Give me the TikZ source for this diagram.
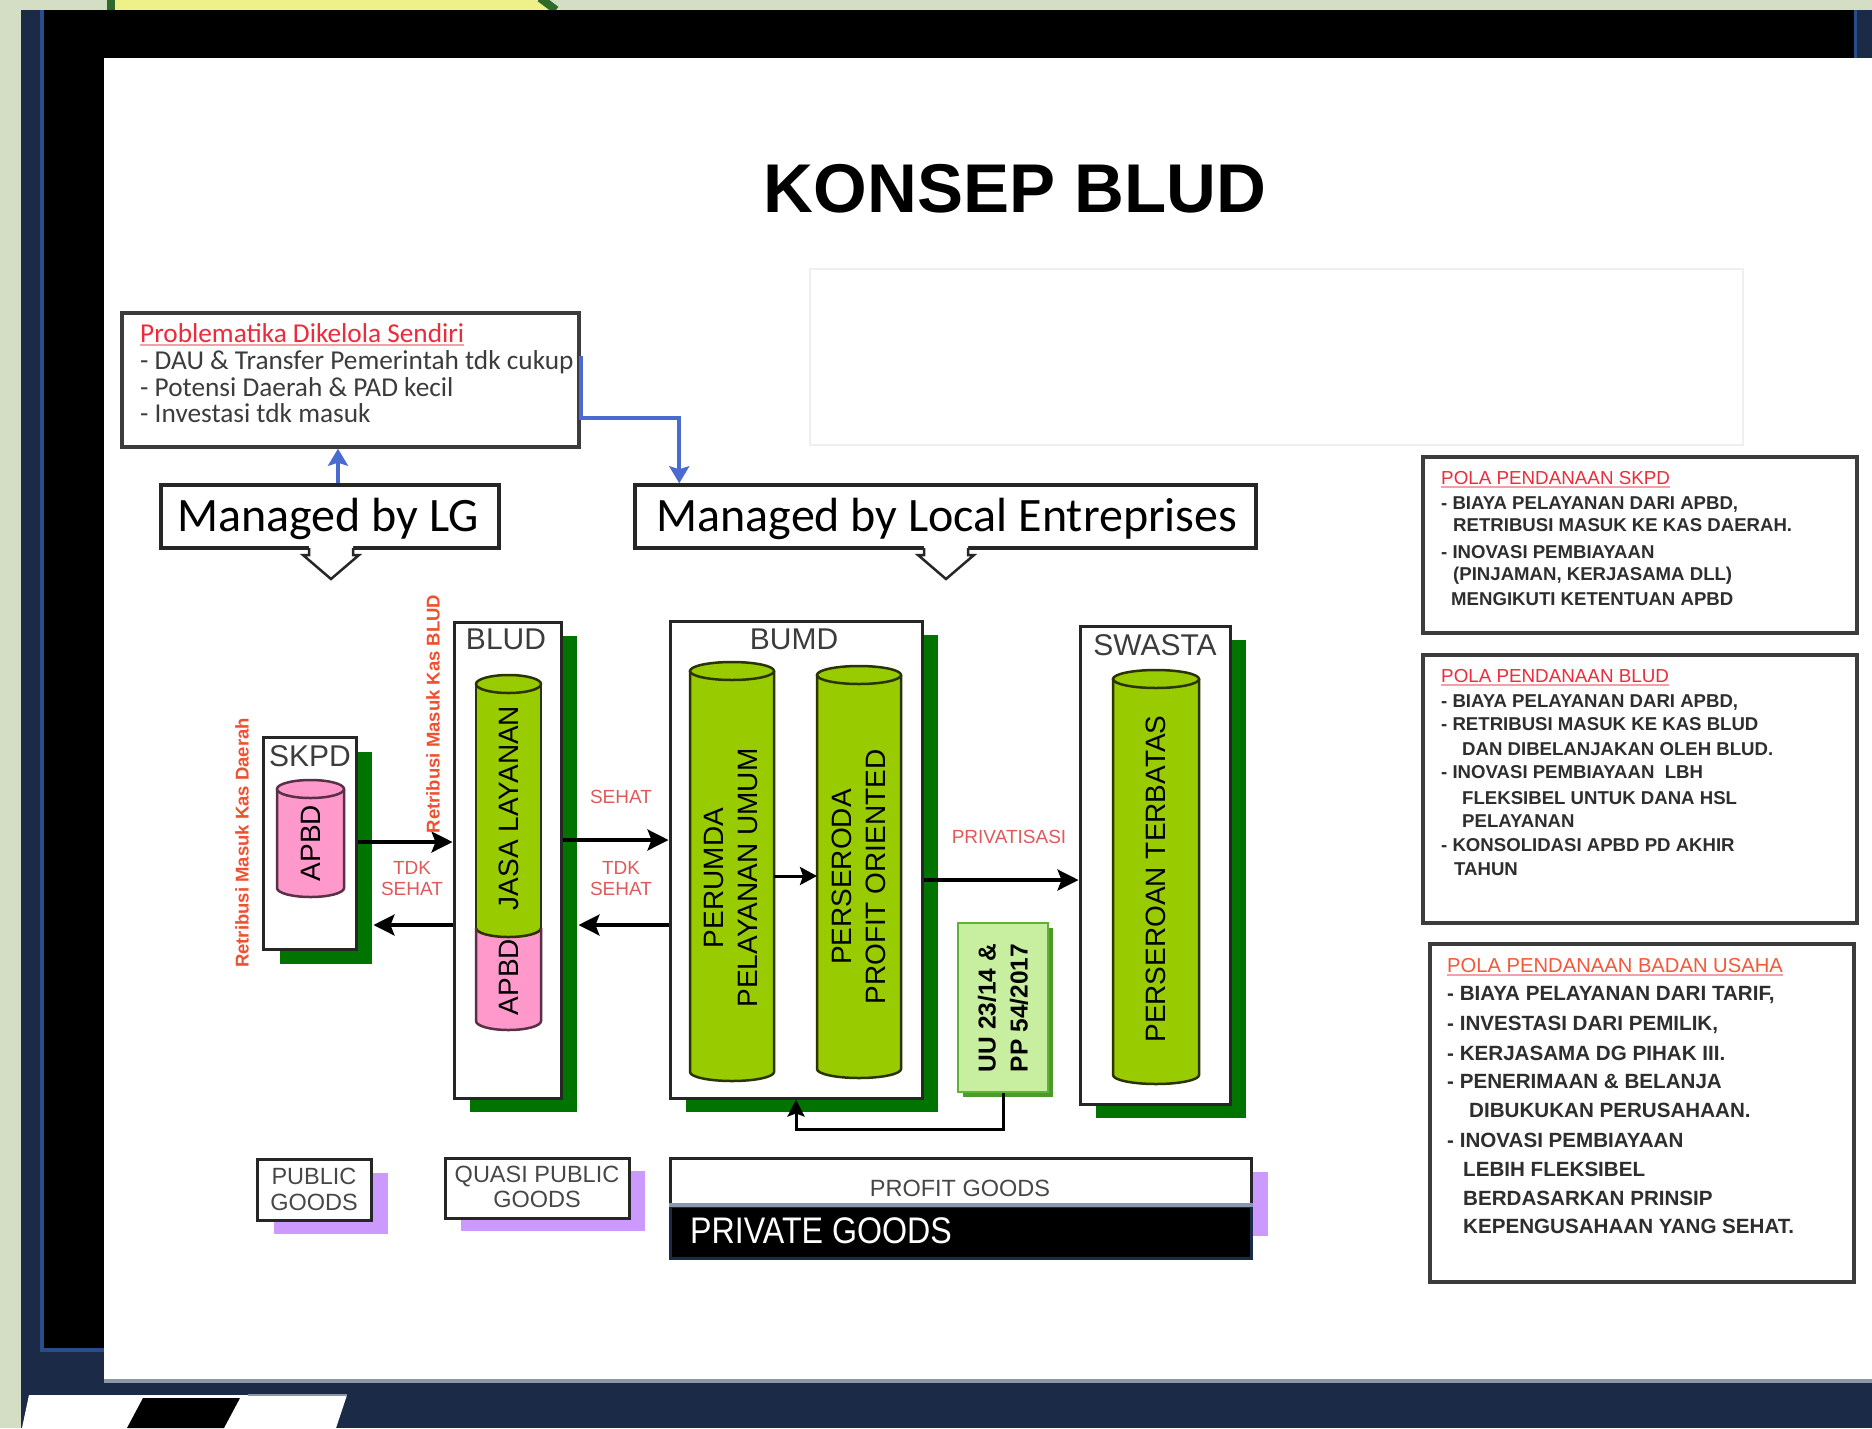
\documentclass[tikz,border=0pt]{standalone}
\usepackage{fontspec}
\setmainfont{Liberation Sans}
\newfontfamily\calfont{Carlito}
\newfontfamily\narrowfont[FakeStretch=0.87]{Liberation Sans}
\usetikzlibrary{arrows.meta,calc}
\definecolor{bggreen}{HTML}{D3DEC5}
\definecolor{navy}{HTML}{1B2A47}
\definecolor{blueline}{HTML}{2B4C8A}
\definecolor{yellowc}{HTML}{EEF08A}
\definecolor{dkgreen}{HTML}{2E6B2A}
\definecolor{graylinec}{HTML}{8C96A8}
\definecolor{boxc}{HTML}{262626}
\definecolor{shgreen}{HTML}{007300}
\definecolor{cylgreen}{HTML}{99CC00}
\definecolor{cylpink}{HTML}{FF99CC}
\definecolor{cylgline}{HTML}{2B3300}
\definecolor{cylpline}{HTML}{5A3046}
\definecolor{purp}{HTML}{CC99FF}
\definecolor{uufill}{HTML}{C8EFA0}
\definecolor{uuline}{HTML}{5DB335}
\definecolor{uushadow}{HTML}{4C9A2A}
\definecolor{lblred}{HTML}{E05A5A}
\definecolor{retred}{HTML}{EF5030}
\definecolor{polared}{HTML}{EC2B3B}
\definecolor{polaorange}{HTML}{F2583A}
\definecolor{ulred}{HTML}{F4A0A8}
\definecolor{polatext}{HTML}{2E2E2E}
\definecolor{arrblue}{HTML}{4A6BD0}
\definecolor{faint}{HTML}{EFEFEF}
\definecolor{midline}{HTML}{8C96B4}
\newcommand\fsz[2]{\fontsize{#1pt}{#2pt}\selectfont}
\newcommand\mycyl[6]{%
 \fill[#5] (#1-#2,#3) -- (#1-#2,#4) arc[start angle=180,end angle=360,x radius=#2pt,y radius=9pt] -- (#1+#2,#3) -- cycle;
 \draw[#6,line width=2.5pt] (#1-#2,#3) -- (#1-#2,#4) arc[start angle=180,end angle=360,x radius=#2pt,y radius=9pt] -- (#1+#2,#3);
 \draw[#6,line width=2.5pt,fill=#5] (#1,#3) ellipse[x radius=#2pt,y radius=9pt];}
\newcommand\callout[2]{%
 \fill[white] (#1-22,#2-3) -- (#1-22,#2+7) -- (#1-28,#2+7) -- (#1,#2+31) -- (#1+28,#2+7) -- (#1+22,#2+7) -- (#1+22,#2-3) -- cycle;
 \draw[boxc,line width=2.5pt,line join=miter] (#1-22,#2) -- (#1-22,#2+7) -- (#1-28,#2+7) -- (#1,#2+31) -- (#1+28,#2+7) -- (#1+22,#2+7) -- (#1+22,#2);}
\begin{document}
\begin{tikzpicture}[x=1pt,y=-1pt,
 box/.style={draw=boxc,line width=3pt,fill=white,inner sep=0pt},
 pbox/.style={draw=boxc!90,line width=3.5pt,fill=white,inner sep=0pt},
 lbl/.style={font=\fsz{30}{34},text=boxc!90,inner sep=0pt},
 cyltext/.style={font=\fsz{28}{34},text=black,rotate=90,align=center,inner sep=0pt},
 redl/.style={font=\fsz{19}{21},text=lblred,align=center,inner sep=0pt},
 retl/.style={font=\bfseries\fsz{18.5}{20},text=retred,rotate=90,inner sep=0pt},
 pl/.style={font=\bfseries\fsz{18.6}{22},text=polatext,anchor=base west,inner sep=0pt},
 pt/.style={font=\fsz{18.8}{22},text=polared,anchor=base west,inner sep=0pt},
 plb/.style={font=\bfseries\fsz{20.6}{24},text=polatext,anchor=base west,inner sep=0pt},
 prl/.style={font=\calfont\fsz{27.3}{27},text=boxc!90,anchor=base west,inner sep=0pt},
 mng/.style={font=\calfont\fsz{48}{50},text=black,anchor=base,inner sep=0pt},
 goods/.style={font=\fsz{23.5}{26},text=boxc!85,align=center,inner sep=0pt},
 arr/.style={draw=black,line width=3.2pt,-{Stealth[length=21pt,width=21pt,inset=4pt]}},
 bluearr/.style={draw=arrblue,line width=4pt,-{Stealth[length=17pt,width=20pt,inset=3pt]}}]
\useasboundingbox (0,0) rectangle (1872,1428);
% ---------- background frame ----------
\fill[bggreen] (0,0) rectangle (1872,1428);
\fill[yellowc] (107,0) -- (107,10) -- (561,10) -- (540,0) -- cycle;
\draw[dkgreen,line width=8pt] (111,0) -- (111,10);
\draw[dkgreen,line width=8pt] (540,-2) -- (556,10);
\fill[navy] (21,10) rectangle (1872,1428);
\draw[blueline,line width=4pt] (42,10) -- (42,1350) -- (104,1350);
\fill[black] (44,10) rectangle (1854,58);
\fill[black] (44,10) rectangle (104,1348);
\fill[blueline] (1854,10) rectangle (1857,58);
\fill[white] (104,58) rectangle (1872,1379);
\fill[graylinec] (104,1379) rectangle (1872,1383);
\fill[white] (29,1395) -- (347,1395) -- (336,1428) -- (22,1428) -- cycle;
\fill[black] (143,1398) -- (240,1398) -- (224,1428) -- (127,1428) -- cycle;
\draw[graylinec,line width=2pt] (248,1395) -- (347,1395);
% ---------- title ----------
\node[font=\bfseries\fsz{69}{80},inner sep=0pt,anchor=base] (title) at (1015,212) {KONSEP BLUD};
\node[draw=faint,line width=2pt,minimum width=933,minimum height=176,inner sep=0pt] (blank) at (1276.5,357) {};
% ---------- problem box ----------
\node[pbox,minimum width=457,minimum height=134] (prob) at (350.5,380) {};
\node[prl,text=polared] (pr0) at (140,342) {Problematika Dikelola Sendiri};
\draw[ulred,line width=2pt] ($(pr0.base west)+(0,3)$) -- ($(pr0.base east)+(0,3)$);
\node[prl] (pr1) at (140,369) {- DAU \& Transfer Pemerintah tdk cukup};
\node[prl] (pr2) at (140,396) {- Potensi Daerah \& PAD kecil};
\node[prl] (pr3) at (140,422) {- Investasi tdk masuk};
% ---------- managed boxes ----------
\node[box,line width=3.5pt,minimum width=338,minimum height=63] (mlg) at (330,516.5) {};
\node[mng] (mlgt) at (328,531) {Managed by LG};
\node[box,line width=3.5pt,minimum width=621,minimum height=63] (mle) at (945.5,516.5) {};
\node[mng] (mlet) at (947,531) {Managed by Local Entreprises};
\callout{331}{548}
\callout{946}{548}
\draw[bluearr] ($(mlg.north)+(8,0)$) -- ($(prob.south)+(-12.5,0)$);
\draw[bluearr] ($(prob.north east)+(0,45)$) |- ($(mle.north west)+(46,-65)$) -- ($(mle.north west)+(46,0)$);
% ---------- boxes with green shadows ----------
\coordinate (skpdc) at (309.5,843);
\coordinate (bludc) at (507.5,860);
\coordinate (bumdc) at (796,859.5);
\coordinate (swastac) at (1155,865);
\fill[shgreen] (279.5,752) rectangle (372,964);
\fill[shgreen] (470,636) rectangle (577,1112);
\fill[shgreen] (686,635) rectangle (938,1112);
\fill[shgreen] (1096,640) rectangle (1246,1118);
\node[box,minimum width=93,minimum height=212] (skpd) at (skpdc) {};
\node[box,minimum width=107,minimum height=476] (blud) at (bludc) {};
\node[box,minimum width=252,minimum height=477] (bumd) at (bumdc) {};
\node[box,minimum width=150,minimum height=478] (swasta) at (swastac) {};
\node[lbl] (skpdt) at (310,756) {SKPD};
\node[lbl] (bludt) at (506,639) {BLUD};
\node[lbl] (bumdt) at (794,639) {BUMD};
\node[lbl] (swastat) at (1155,645) {SWASTA};
% ---------- cylinders ----------
\mycyl{310.5}{33.5}{789}{888}{cylpink}{cylpline}
\node[cyltext] (apbd1) at (310.5,843) {APBD};
% BLUD two-tone cylinder
\fill[cylpink] (476,915) -- (476,1021) arc[start angle=180,end angle=360,x radius=32.5pt,y radius=9pt] -- (541,915) -- cycle;
\fill[cylgreen] (476,684) -- (476,928) arc[start angle=180,end angle=360,x radius=32.5pt,y radius=9pt] -- (541,684) -- cycle;
\draw[cylgline,line width=2.5pt] (476,928) arc[start angle=180,end angle=360,x radius=32.5pt,y radius=9pt];
\draw[cylgline,line width=2.5pt] (476,684) -- (476,928);
\draw[cylgline,line width=2.5pt] (541,684) -- (541,928);
\draw[cylpline,line width=2.5pt] (476,928) -- (476,1021) arc[start angle=180,end angle=360,x radius=32.5pt,y radius=9pt] -- (541,928);
\draw[cylgline,line width=2.5pt,fill=cylgreen] (508.5,684) ellipse[x radius=32.5pt,y radius=9pt];
\node[cyltext] (jasa) at (508.5,808) {JASA LAYANAN};
\node[cyltext] (apbd2) at (508.5,977) {APBD};
\mycyl{732}{42}{671}{1072}{cylgreen}{cylgline}
\node[cyltext] (perumda) at (731,878) {PERUMDA\\PELAYANAN UMUM};
\mycyl{859}{42}{675}{1069}{cylgreen}{cylgline}
\node[cyltext] (persero) at (859,877) {PERSERODA\\PROFIT ORIENTED};
\mycyl{1156}{43}{679}{1075}{cylgreen}{cylgline}
\node[cyltext] (pt) at (1156,879) {PERSEROAN TERBATAS};
% ---------- UU box ----------
\fill[uushadow] (963,928) rectangle (1053,1097);
\node[draw=uuline,fill=uufill,line width=2.5pt,minimum width=90,minimum height=169,inner sep=0pt] (uu) at (1003,1007.5) {};
\node[rotate=90,align=left,font=\bfseries\fsz{24.5}{32},inner sep=0pt] (uut) at (1003,1008) {UU 23/14 \&\\PP 54/2017};
% ---------- arrows ----------
\coordinate (s1) at ($(skpd.east)+(0,-1)$);
\coordinate (s2) at ($(skpd.east)+(0,82)$);
\draw[arr] (s1) -- (s1 -| blud.west);
\draw[arr] (s2 -| blud.west) -- ($(s2)+(16,0)$);
\coordinate (b1) at ($(blud.east)+(0,-20)$);
\coordinate (b2) at ($(blud.east)+(0,65)$);
\draw[arr] (b1) -- (b1 -| bumd.west);
\draw[arr] (b2 -| bumd.west) -- ($(b2)+(16,0)$);
\coordinate (c1e) at (774,876);
\coordinate (c2w) at (817,876);
\draw[draw=black,line width=3pt,-{Stealth[length=17pt,width=18pt,inset=3pt]}] (c1e) -- (c2w);
\coordinate (p1) at ($(bumd.east)+(0,20.5)$);
\draw[arr] (p1) -- (p1 -| swasta.west);
\draw[draw=black,line width=3pt,-{Stealth[length=17pt,width=17pt,inset=3pt]}] (uu.south) -- ++(0,36) -| (bumd.south);
% ---------- labels ----------
\node[redl] (sh1) at (621,797) {SEHAT};
\node[redl] (tdk1) at (621,878.5) {TDK\\SEHAT};
\node[redl] (tdk0) at (412,878.5) {TDK\\SEHAT};
\node[redl] (priv) at (1009,837) {PRIVATISASI};
\node[retl] (rl1) at (242,843) {Retribusi Masuk Kas Daerah};
\node[retl] (rl2) at (433,714) {Retribusi Masuk Kas BLUD};
% ---------- goods ----------
\fill[purp] (274,1173) rectangle (388,1234);
\node[box,line width=3pt,minimum width=114,minimum height=61] (pub) at (314,1189.5) {};
\node[goods] (pubt) at (314,1189) {PUBLIC\\GOODS};
\fill[purp] (461,1171) rectangle (645,1231);
\node[box,line width=3pt,minimum width=184,minimum height=60] (quasi) at (537,1188) {};
\node[goods,font=\fsz{23.5}{25}] (quasit) at (537,1186.5) {QUASI PUBLIC\\GOODS};
\fill[purp] (1240,1172) rectangle (1268,1236);
\node[box,line width=3pt,minimum width=581,minimum height=48] (profit) at (960.5,1182) {};
\node[goods] (profitt) at (960,1188) {PROFIT GOODS};
\node[draw=navy,fill=black,line width=3pt,minimum width=581,minimum height=52,inner sep=0pt] (private) at (960.5,1232) {};
\draw[midline,line width=4pt] (private.north west) -- (private.north east);
\node[font=\narrowfont\fsz{37}{40},text=white,anchor=west,inner sep=0pt] (privt) at (690,1231) {PRIVATE GOODS};
% ---------- POLA boxes ----------
\node[pbox,minimum width=434,minimum height=176] (pola1) at (1640,545) {};
\node[pt] (p1t) at (1441,484) {POLA PENDANAAN SKPD};
\draw[ulred,line width=2pt] ($(p1t.base west)+(0,3)$) -- ($(p1t.base east)+(0,3)$);
\node[pl] (p1a) at (1441,509) {- BIAYA PELAYANAN DARI APBD,};
\node[pl] (p1b) at (1453,531) {RETRIBUSI MASUK KE KAS DAERAH.};
\node[pl] (p1c) at (1441,558) {- INOVASI PEMBIAYAAN};
\node[pl] (p1d) at (1453,580) {(PINJAMAN, KERJASAMA DLL)};
\node[pl] (p1e) at (1451,605) {MENGIKUTI KETENTUAN APBD};
\node[pbox,minimum width=434,minimum height=268] (pola2) at (1640,789) {};
\node[pt] (p2t) at (1441,682) {POLA PENDANAAN BLUD};
\draw[ulred,line width=2pt] ($(p2t.base west)+(0,3)$) -- ($(p2t.base east)+(0,3)$);
\node[pl] (p2a) at (1441,707) {- BIAYA PELAYANAN DARI APBD,};
\node[pl] (p2b) at (1441,730) {- RETRIBUSI MASUK KE KAS BLUD};
\node[pl] (p2c) at (1462,755) {DAN DIBELANJAKAN OLEH BLUD.};
\node[pl] (p2d) at (1441,778) {- INOVASI PEMBIAYAAN \ LBH};
\node[pl] (p2e) at (1462,804) {FLEKSIBEL UNTUK DANA HSL};
\node[pl] (p2f) at (1462,827) {PELAYANAN};
\node[pl] (p2g) at (1441,851) {- KONSOLIDASI APBD PD AKHIR};
\node[pl] (p2h) at (1454,875) {TAHUN};
\node[pbox,minimum width=424,minimum height=338] (pola3) at (1642,1113) {};
\node[pt,font=\fsz{20.2}{24},text=polaorange] (p3t) at (1447,972) {POLA PENDANAAN BADAN USAHA};
\draw[ulred,line width=2pt] ($(p3t.base west)+(0,3)$) -- ($(p3t.base east)+(0,3)$);
\node[plb] (p3a) at (1447,1000) {- BIAYA PELAYANAN DARI TARIF,};
\node[plb] (p3b) at (1447,1030) {- INVESTASI DARI PEMILIK,};
\node[plb] (p3c) at (1447,1060) {- KERJASAMA DG PIHAK III.};
\node[plb] (p3d) at (1447,1088) {- PENERIMAAN \& BELANJA};
\node[plb] (p3e) at (1469,1117) {DIBUKUKAN PERUSAHAAN.};
\node[plb] (p3f) at (1447,1147) {- INOVASI PEMBIAYAAN};
\node[plb] (p3g) at (1463,1176) {LEBIH FLEKSIBEL};
\node[plb] (p3h) at (1463,1205) {BERDASARKAN PRINSIP};
\node[plb] (p3i) at (1463,1233) {KEPENGUSAHAAN YANG SEHAT.};
\end{tikzpicture}
\end{document}
